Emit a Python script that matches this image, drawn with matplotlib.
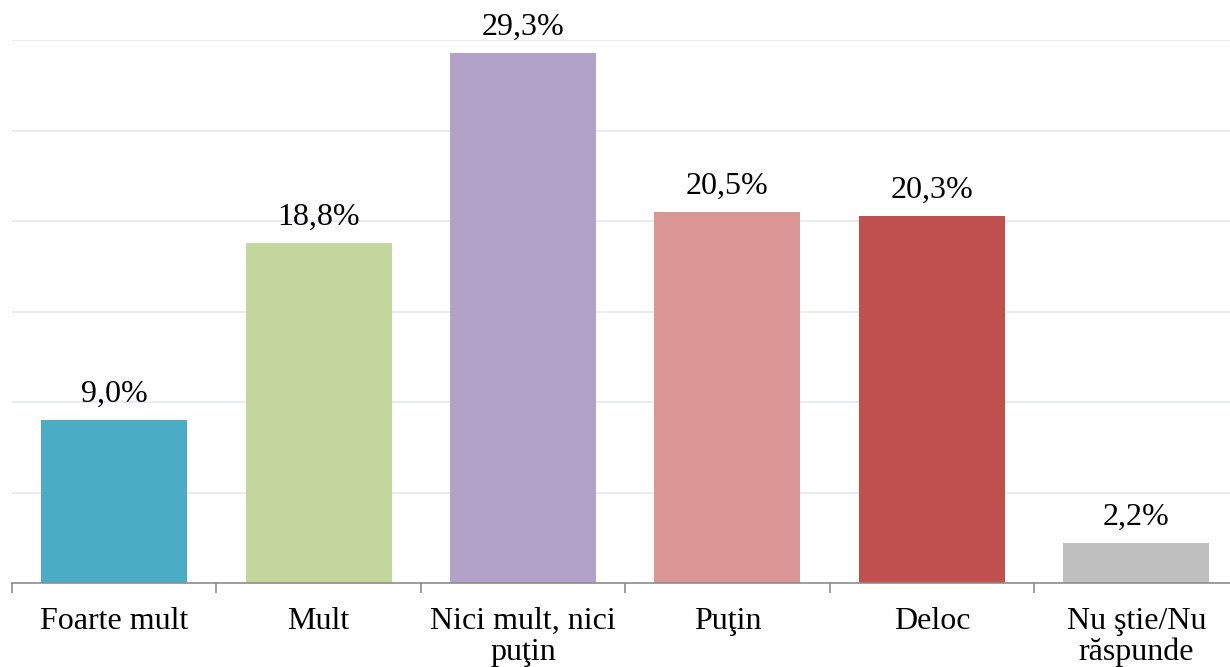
import matplotlib
matplotlib.use("Agg")
import matplotlib.pyplot as plt

categories = ["Foarte mult", "Mult", "Nici mult, nici\npuţin", "Puţin", "Deloc", "Nu ştie/Nu\nrăspunde"]
values = [9.0, 18.8, 29.3, 20.5, 20.3, 2.2]
colors = ["#4BACC6", "#C3D69B", "#B2A2C7", "#D99694", "#C0504D", "#BFBFBF"]

plt.rcParams['font.family'] = ['Liberation Serif', 'DejaVu Serif']

W, H = 1230, 667
fig = plt.figure(figsize=(W / 100, H / 100), dpi=100)
left = 12 / W
right = 1238.5 / W
bottom = (H - 583) / H
top = (H - 40.3) / H
ax = fig.add_axes([left, bottom, right - left, top - bottom])

x = list(range(len(categories)))
bars = ax.bar(x, values, width=0.714, color=colors, zorder=2)
ax.set_xlim(-0.5, len(categories) - 0.5)
ax.set_ylim(0, 30)

ax.set_yticks([5, 10, 15, 20, 25, 30])
ax.yaxis.grid(True, color="#E4E9EF", linewidth=1.2, zorder=0)
ax.tick_params(axis='y', left=False, labelleft=False)

ax.set_xticks(x)
ax.set_xticklabels(categories, fontsize=23, linespacing=1.1)
ax.tick_params(axis='x', length=0, pad=17)
ax.set_xticks([i - 0.5 for i in range(len(categories) + 1)], minor=True)
ax.tick_params(axis='x', which='minor', length=7, color="#8C8C8C", width=1.2)

for s in ["top", "right", "left"]:
    ax.spines[s].set_visible(False)
ax.spines["bottom"].set_color("#8C8C8C")
ax.spines["bottom"].set_linewidth(1.2)

for xi, v in zip(x, values):
    ax.annotate(f"{v:.1f}%".replace(".", ","), (xi, v), xytext=(0, 13),
                textcoords="offset points", ha="center", va="baseline", fontsize=23)

fig.savefig("out.png", dpi=100)
